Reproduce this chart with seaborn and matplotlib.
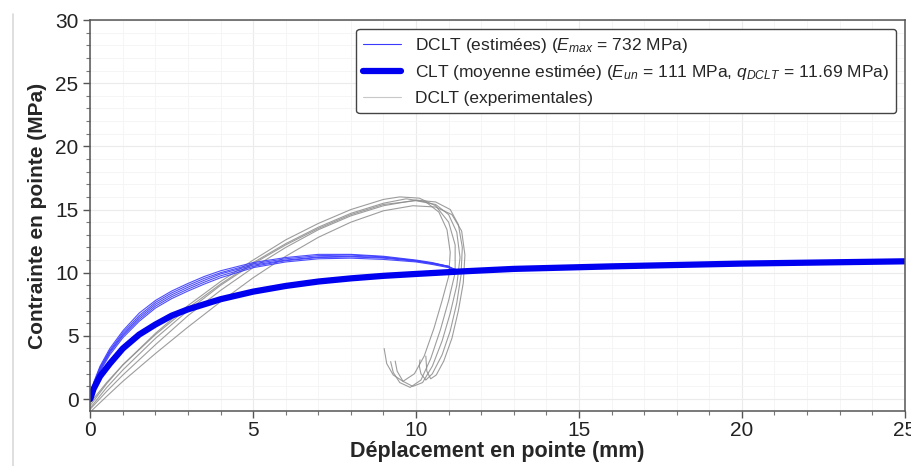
import pandas as pd
import seaborn as sns
import matplotlib.pyplot as plt
from matplotlib.lines import Line2D
from matplotlib.ticker import MultipleLocator

# CLT moyenne estimee (courbe epaisse)
clt_x = [0, 0.1, 0.3, 0.6, 1.0, 1.5, 2.0, 2.5, 3.0, 4.0, 5.0, 6.0, 7.0, 8.0, 9.0, 10.0, 11.4, 13.0, 16.0, 20.0, 25.0]
clt_y = [0, 0.8, 1.8, 2.8, 4.0, 5.1, 5.9, 6.6, 7.1, 7.9, 8.5, 8.95, 9.3, 9.55, 9.75, 9.9, 10.1, 10.3, 10.5, 10.72, 10.9]

# DCLT estimees (courbes bleues fines)
est_x = [0, 0.1, 0.3, 0.6, 1.0, 1.5, 2.0, 2.5, 3.0, 3.5, 4.0, 5.0, 6.0, 7.0, 8.0, 9.0, 10.0, 10.5, 11.0]
est1_y = [0, 1.3, 2.6, 4.0, 5.4, 6.8, 7.8, 8.55, 9.15, 9.7, 10.15, 10.8, 11.2, 11.45, 11.45, 11.3, 11.0, 10.8, 10.5]
est2_y = [0, 1.2, 2.5, 3.85, 5.25, 6.6, 7.65, 8.4, 9.0, 9.55, 10.0, 10.7, 11.1, 11.35, 11.4, 11.25, 10.95, 10.75, 10.5]
est3_y = [0, 1.1, 2.4, 3.75, 5.1, 6.45, 7.5, 8.25, 8.85, 9.4, 9.9, 10.6, 11.0, 11.25, 11.3, 11.2, 10.95, 10.75, 10.5]
est4_y = [0, 1.05, 2.3, 3.65, 5.0, 6.3, 7.35, 8.1, 8.7, 9.25, 9.75, 10.5, 10.95, 11.2, 11.25, 11.15, 10.9, 10.7, 10.45]
est5_y = [0, 1.0, 2.2, 3.5, 4.85, 6.15, 7.2, 7.95, 8.55, 9.1, 9.6, 10.4, 10.85, 11.1, 11.15, 11.05, 10.85, 10.65, 10.4]
est_end_x = [11.05, 11.15, 11.25, 11.35, 11.45]
est_end_y = [10.25, 10.2, 10.15, 10.15, 10.1]

# DCLT experimentales (boucles grises)
exp1_x = [0, 0.5, 1, 2, 3, 4, 5, 6, 7, 8, 9, 9.7, 10.3, 10.7, 10.95, 11.05, 11.0, 10.8, 10.55, 10.25, 9.95, 9.6, 9.3, 9.1, 9.02]
exp1_y = [-0.3, 1.3, 2.7, 5.1, 7.2, 9.1, 10.8, 12.3, 13.6, 14.7, 15.5, 15.85, 15.6, 14.8, 13.4, 11.6, 9.7, 7.8, 5.6, 3.4, 2.0, 1.4, 1.9, 2.8, 4.0]
exp2_x = [0, 0.5, 1, 2, 3, 4, 5, 6, 7, 8, 9, 9.5, 10.1, 10.6, 11.0, 11.2, 11.2, 11.0, 10.75, 10.45, 10.15, 9.82, 9.5, 9.3, 9.22]
exp2_y = [-0.5, 1.2, 2.7, 5.2, 7.4, 9.3, 11.0, 12.6, 13.9, 15.0, 15.8, 16.0, 15.9, 15.3, 14.0, 12.2, 10.0, 7.8, 5.5, 3.2, 1.5, 0.92, 1.3, 2.1, 2.96]
exp3_x = [0, 0.5, 1, 2, 3, 4, 5, 6, 7, 8, 9, 10.0, 10.6, 11.0, 11.25, 11.35, 11.25, 11.05, 10.8, 10.5, 10.2, 9.9, 9.6, 9.42, 9.36]
exp3_y = [-0.7, 0.9, 2.3, 4.8, 7.0, 9.0, 10.7, 12.2, 13.5, 14.6, 15.4, 15.7, 15.4, 14.6, 13.2, 11.2, 9.0, 6.8, 4.6, 2.6, 1.3, 1.0, 1.4, 2.2, 3.0]
exp4_x = [0, 0.5, 1, 2, 3, 4, 5, 6, 7, 8, 9, 10.0, 10.6, 11.05, 11.3, 11.42, 11.38, 11.25, 11.05, 10.8, 10.5, 10.3, 10.15, 10.1, 10.12]
exp4_y = [-0.8, 0.6, 1.9, 4.3, 6.6, 8.6, 10.4, 12.0, 13.4, 14.5, 15.3, 15.75, 15.6, 15.0, 13.8, 12.0, 9.8, 7.6, 5.4, 3.5, 2.0, 1.5, 2.0, 2.6, 3.1]
exp5_x = [0.05, 0.5, 1, 2, 3, 4, 5, 6, 7, 8, 9, 9.9, 10.6, 11.1, 11.4, 11.5, 11.45, 11.3, 11.1, 10.85, 10.62, 10.45, 10.33, 10.3]
exp5_y = [-0.9, 0.2, 1.4, 3.6, 5.7, 7.7, 9.6, 11.3, 12.8, 14.0, 14.9, 15.3, 15.2, 14.6, 13.3, 11.4, 9.2, 7.0, 4.8, 3.0, 1.9, 1.6, 2.2, 3.4]

LEGEND_LABELS = [
    r"DCLT (estimées) ($E_{max}$ = 732 MPa)",
    r"CLT (moyenne estimée) ($E_{un}$ = 111 MPa, $q_{DCLT}$ = 11.69 MPa)",
    "DCLT (experimentales)",
]

BLUE_THIN = "#3a3aff"
BLUE_THICK = "#0000f0"
GREY = "#8c8c8c"


def build_frames():
    est_rows = []
    for i, ys in enumerate([est1_y, est2_y, est3_y, est4_y, est5_y]):
        xs = est_x + [est_end_x[i]]
        ys = ys + [est_end_y[i]]
        est_rows.append(pd.DataFrame({"x": xs, "y": ys, "essai": i}))
    est = pd.concat(est_rows, ignore_index=True)

    exp_rows = []
    pairs = [(exp1_x, exp1_y), (exp2_x, exp2_y), (exp3_x, exp3_y), (exp4_x, exp4_y), (exp5_x, exp5_y)]
    for i, (xs, ys) in enumerate(pairs):
        exp_rows.append(pd.DataFrame({"x": xs, "y": ys, "essai": i}))
    exp = pd.concat(exp_rows, ignore_index=True)

    clt = pd.DataFrame({"x": clt_x, "y": clt_y})
    return est, exp, clt


def main():
    sns.set_style("ticks")
    plt.rcParams['font.family'] = ['Liberation Sans', 'DejaVu Sans']
    plt.rcParams['mathtext.fontset'] = 'custom'
    plt.rcParams['mathtext.rm'] = 'Liberation Sans'
    plt.rcParams['mathtext.it'] = 'Liberation Sans:italic'

    est, exp, clt = build_frames()

    fig = plt.figure(figsize=(9.12, 4.66), dpi=100)
    ax = fig.add_axes([0.099, 0.118, 0.893, 0.839])

    sns.lineplot(data=exp, x="x", y="y", units="essai", estimator=None, sort=False,
                 color=GREY, lw=0.8, alpha=0.85, ax=ax, legend=False)
    sns.lineplot(data=est, x="x", y="y", units="essai", estimator=None, sort=False,
                 color=BLUE_THIN, lw=0.8, alpha=0.9, ax=ax, legend=False)
    sns.lineplot(data=clt, x="x", y="y", estimator=None, sort=False,
                 color=BLUE_THICK, lw=4.5, ax=ax, legend=False)

    ax.set_xlim(0, 25)
    ax.set_ylim(-0.95, 30)
    ax.xaxis.set_major_locator(MultipleLocator(5))
    ax.xaxis.set_minor_locator(MultipleLocator(1))
    ax.yaxis.set_major_locator(MultipleLocator(5))
    ax.yaxis.set_minor_locator(MultipleLocator(1))
    ax.grid(which="major", color="#ebebeb", lw=0.8)
    ax.grid(which="minor", color="#f4f4f4", lw=0.6)
    ax.set_axisbelow(True)

    for side in ["left", "bottom", "top", "right"]:
        ax.spines[side].set_color("#555555")
        ax.spines[side].set_linewidth(1.1)
    ax.tick_params(which="major", length=5, width=1, color="#555555", labelcolor="#222222")
    ax.tick_params(which="minor", length=3, width=0.8, color="#777777")
    ax.tick_params(axis="y", labelsize=15)
    ax.tick_params(axis="x", labelsize=15, pad=2)

    ax.set_xlabel("Déplacement en pointe (mm)", fontsize=15.5, fontweight="bold", labelpad=1)
    ax.set_ylabel("Contrainte en pointe (MPa)", fontsize=15, fontweight="bold", labelpad=6)

    handles = [
        Line2D([], [], color=BLUE_THIN, lw=0.8),
        Line2D([], [], color=BLUE_THICK, lw=4.5),
        Line2D([], [], color="#c8c8c8", lw=0.8),
    ]
    leg = ax.legend(handles, LEGEND_LABELS, loc="upper right", fontsize=12.5, frameon=True,
                    handlelength=2.2, handletextpad=0.8, labelspacing=0.5,
                    borderaxespad=0.5, fancybox=True)
    leg.get_frame().set_edgecolor("#444444")
    leg.get_frame().set_linewidth(1.0)
    leg.get_frame().set_alpha(1)

    # trait gris vertical a gauche de l'image
    fig.add_artist(Line2D([0.014, 0.014], [0.0, 0.97], color="#d9d9d9", lw=1.2))

    fig.savefig("out.png", dpi=100)


if __name__ == "__main__":
    main()
